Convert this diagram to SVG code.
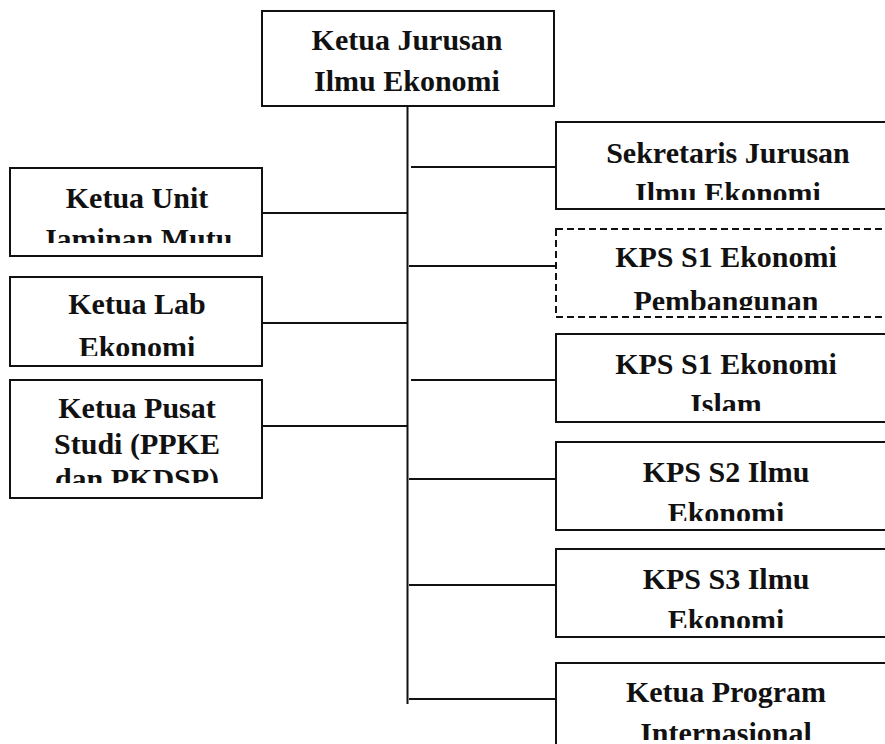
<svg xmlns="http://www.w3.org/2000/svg" width="885" height="744" viewBox="0 0 885 744">
<style>
.box{fill:#fff;stroke:#111;stroke-width:2}
.dash{fill:#fff;stroke:#111;stroke-width:2;stroke-dasharray:7 4}
.ln{stroke:#111;stroke-width:2;fill:none}
text{font-family:"Liberation Serif","Times New Roman",serif;font-weight:bold;font-size:30px;fill:#111;text-anchor:middle}
</style>
<defs>
<clipPath id="cL1"><rect x="10" y="168" width="252" height="75"/></clipPath>
<clipPath id="cL2"><rect x="10" y="277" width="252" height="79"/></clipPath>
<clipPath id="cL3"><rect x="10" y="380" width="252" height="103"/></clipPath>
<clipPath id="cR1"><rect x="556" y="122" width="340" height="78"/></clipPath>
<clipPath id="cR2"><rect x="556" y="229" width="340" height="81"/></clipPath>
<clipPath id="cR3"><rect x="556" y="334" width="340" height="77"/></clipPath>
<clipPath id="cR4"><rect x="556" y="442" width="340" height="79"/></clipPath>
<clipPath id="cR5"><rect x="556" y="549" width="340" height="79"/></clipPath>
<clipPath id="cR6"><rect x="556" y="663" width="340" height="77"/></clipPath>
</defs>
<rect width="885" height="744" fill="#fff"/>
<g id="connectors">
<line class="ln" x1="407.5" y1="106" x2="407.5" y2="704"/>
<line class="ln" x1="262" y1="213" x2="407.5" y2="213"/>
<line class="ln" x1="262" y1="323" x2="407.5" y2="323"/>
<line class="ln" x1="262" y1="426" x2="407.5" y2="426"/>
<line class="ln" x1="411" y1="167" x2="556" y2="167"/>
<line class="ln" x1="409" y1="266" x2="556" y2="266"/>
<line class="ln" x1="411" y1="380" x2="556" y2="380"/>
<line class="ln" x1="409" y1="479" x2="556" y2="479"/>
<line class="ln" x1="409" y1="585" x2="556" y2="585"/>
<line class="ln" x1="409" y1="699" x2="556" y2="699"/>
</g>
<g id="ketua-jurusan">
<rect class="box" x="262" y="11" width="292" height="95"/>
<text x="407" y="50">Ketua Jurusan</text>
<text x="407" y="91">Ilmu Ekonomi</text>
</g>
<g id="ketua-unit-jaminan-mutu">
<rect class="box" x="10" y="168" width="252" height="88"/>
<g clip-path="url(#cL1)">
<text x="137" y="208">Ketua Unit</text>
<text x="137" y="249">Jaminan Mutu</text>
</g>
</g>
<g id="ketua-lab-ekonomi">
<rect class="box" x="10" y="277" width="252" height="89"/>
<g clip-path="url(#cL2)">
<text x="137" y="314">Ketua Lab</text>
<text x="137" y="357">Ekonomi</text>
</g>
</g>
<g id="ketua-pusat-studi">
<rect class="box" x="10" y="380" width="252" height="118"/>
<g clip-path="url(#cL3)">
<text x="137" y="418">Ketua Pusat</text>
<text x="137" y="454">Studi (PPKE</text>
<text x="137" y="489">dan PKDSP)</text>
</g>
</g>
<g id="sekretaris-jurusan">
<rect class="box" x="556" y="122" width="350" height="87"/>
<g clip-path="url(#cR1)">
<text x="728" y="163">Sekretaris Jurusan</text>
<text x="728" y="203">Ilmu Ekonomi</text>
</g>
</g>
<g id="kps-s1-ekonomi-pembangunan">
<rect class="dash" x="556" y="229" width="350" height="88"/>
<g clip-path="url(#cR2)">
<text x="726" y="267">KPS S1 Ekonomi</text>
<text x="726" y="311">Pembangunan</text>
</g>
</g>
<g id="kps-s1-ekonomi-islam">
<rect class="box" x="556" y="334" width="350" height="88"/>
<g clip-path="url(#cR3)">
<text x="726" y="374">KPS S1 Ekonomi</text>
<text x="726" y="414">Islam</text>
</g>
</g>
<g id="kps-s2-ilmu-ekonomi">
<rect class="box" x="556" y="442" width="350" height="88"/>
<g clip-path="url(#cR4)">
<text x="726" y="482">KPS S2 Ilmu</text>
<text x="726" y="523">Ekonomi</text>
</g>
</g>
<g id="kps-s3-ilmu-ekonomi">
<rect class="box" x="556" y="549" width="350" height="88"/>
<g clip-path="url(#cR5)">
<text x="726" y="589">KPS S3 Ilmu</text>
<text x="726" y="630">Ekonomi</text>
</g>
</g>
<g id="ketua-program-internasional">
<rect class="box" x="556" y="663" width="350" height="100"/>
<g clip-path="url(#cR6)">
<text x="726" y="702">Ketua Program</text>
<text x="726" y="743">Internasional</text>
</g>
</g>
</svg>
